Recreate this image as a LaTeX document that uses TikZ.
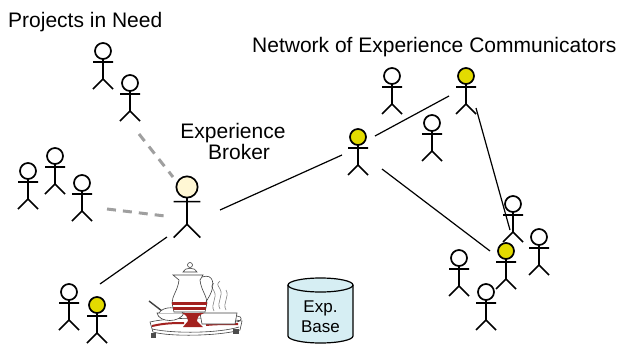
\documentclass[tikz,border=0pt]{standalone}
\usepackage{fontspec}
\setmainfont{Liberation Sans}
\usetikzlibrary{calc}
\definecolor{fyellow}{HTML}{E3DB00}
\definecolor{flight}{HTML}{FFF7D4}
\definecolor{dbcyan}{HTML}{D6EEF3}
\definecolor{cred}{HTML}{A3211F}

\tikzset{
  pics/person/.style={code={
    \draw[line width=1.7pt, fill=#1] (0,0) circle (8);
    \draw[line width=1.7pt] (0,8) -- (0,28) (-10,11) -- (10,11) (-10,38) -- (0,28) -- (10,38);
    \coordinate (-h) at (0,0);
  }},
  link/.style={line width=1.2pt},
  weak/.style={line width=3pt, gray!75, dash pattern=on 9pt off 7pt},
  txt/.style={font=\fontsize{21}{25}\selectfont, inner sep=0pt},
  ware/.style={line width=0.6pt, black!75, fill=white}
}

\begin{document}
\begin{tikzpicture}[x=1pt,y=-1pt]
\useasboundingbox (0,0) rectangle (619,343);

\node[txt, anchor=base west] (need) at (8,27) {Projects in Need};
\node[txt, anchor=base west] (net) at (252,52) {Network of Experience Communicators};
\node[txt, anchor=base] (exp) at (233,138) {Experience};
\node[txt, anchor=base] (brk) at (239,159) {Broker};

\pic (p1) at (103,51) {person=white};
\pic (p2) at (130,83) {person=white};
\pic (p3) at (28,171) {person=white};
\pic (p4) at (55,156) {person=white};
\pic (p5) at (82,183) {person=white};
\pic (w1) at (69,292) {person=white};
\pic (y1) at (97,305) {person=fyellow};
\pic[scale=1.33] (b) at (187,187) {person=flight};

\pic (n1) at (358,137) {person=fyellow};
\pic (n2) at (392,76) {person=white};
\pic (n3) at (466,76) {person=fyellow};
\pic (n4) at (432,123) {person=white};
\pic (n5) at (513,204) {person=white};
\pic (n6) at (506,251) {person=fyellow};
\pic (n7) at (539,237) {person=white};
\pic (n8) at (459,258) {person=white};
\pic (n9) at (486,292) {person=white};

\draw[weak] ($(p2-h)+(9,51)$) -- ($(b-h)+(-14,-10)$);
\draw[weak] ($(p5-h)+(25,26)$) -- ($(b-h)+(-22,29)$);
\draw[link] ($(b-h)+(33,23)$) -- ($(n1-h)+(-16,18)$);
\draw[link] ($(b-h)+(-20,50)$) -- ($(y1-h)+(3,-21)$);
\draw[link] ($(n1-h)+(17,-1)$) -- ($(n3-h)+(-17,20)$);
\draw[link] ($(n1-h)+(24,32)$) -- ($(n6-h)+(-16,0)$);
\draw[link] ($(n3-h)+(10,32)$) -- ($(n6-h)+(4,-21)$);

% experience base
\filldraw[line width=1.2pt, fill=dbcyan] (288,285) -- (288,336)
  arc[start angle=180, end angle=0, x radius=32.5, y radius=7] -- (353,285);
\filldraw[line width=1.2pt, fill=dbcyan] (320.5,285) ellipse[x radius=32.5, y radius=7];
\node[align=center, font=\fontsize{17}{20}\selectfont, inner sep=0pt] (db) at (320.5,317) {Exp.\\Base};

% coffee tray
\filldraw[ware] (150,322) .. controls (170,317) and (220,317) .. (242,321)
  -- (240,330) .. controls (220,336) and (170,337) .. (153,332) -- cycle;
\draw[ware, fill=none] (152,329) .. controls (175,334) and (220,333) .. (239,327);
\draw[cred, line width=2pt] (152,326) .. controls (165,323) and (175,323) .. (184,323);
\draw[cred, line width=2pt] (206,325) .. controls (215,324) and (228,324) .. (238,324);
\fill[black!70] (151,333) rectangle (156,338);
\fill[black!70] (233,329) rectangle (239,334);
\draw[ware, line width=1.4pt] (149,301) -- (162,311);
\filldraw[ware] (157,313) .. controls (159,323) and (180,323) .. (184,313) -- cycle;
\filldraw[ware] (159,313) .. controls (163,306) and (178,306) .. (183,313);
\draw[black!50, line width=0.6pt] (214,311) .. controls (210,304) and (218,298) .. (214,291) .. controls (211,286) .. (214,283)
  (220,309) .. controls (216,302) and (224,296) .. (220,289) .. controls (217,284) .. (220,281)
  (226,310) .. controls (222,303) and (230,297) .. (226,290);
\filldraw[ware] (200,313) -- (237,313) -- (235,324) -- (202,324) -- cycle;
\draw[ware, fill=none] (237,316) .. controls (243,316) and (243,322) .. (235,322);
% pot
\filldraw[ware] (173,275) -- (179,280) .. controls (178,290) and (172,296) .. (172,303)
  -- (174,312) -- (205,312) -- (207,303) .. controls (207,296) and (201,290) .. (200,280) -- (203,275) -- cycle;
\draw[ware, fill=none] (202,277) .. controls (214,273) and (215,285) .. (210,295) .. controls (208,299) .. (206,302);
\filldraw[ware] (183,272) .. controls (184,267) and (196,267) .. (197,272) -- cycle;
\filldraw[ware] (190,265) circle (2.5);
\fill[cred] (172,302) rectangle (207,305);
\fill[cred] (173,307) rectangle (206,309.5);
\fill[cred] (182,313) -- (204,313) .. controls (198,316) .. (197,321) -- (203,327) -- (183,327)
  -- (188,321) .. controls (187,316) .. (182,313) -- cycle;
\end{tikzpicture}
\end{document}
